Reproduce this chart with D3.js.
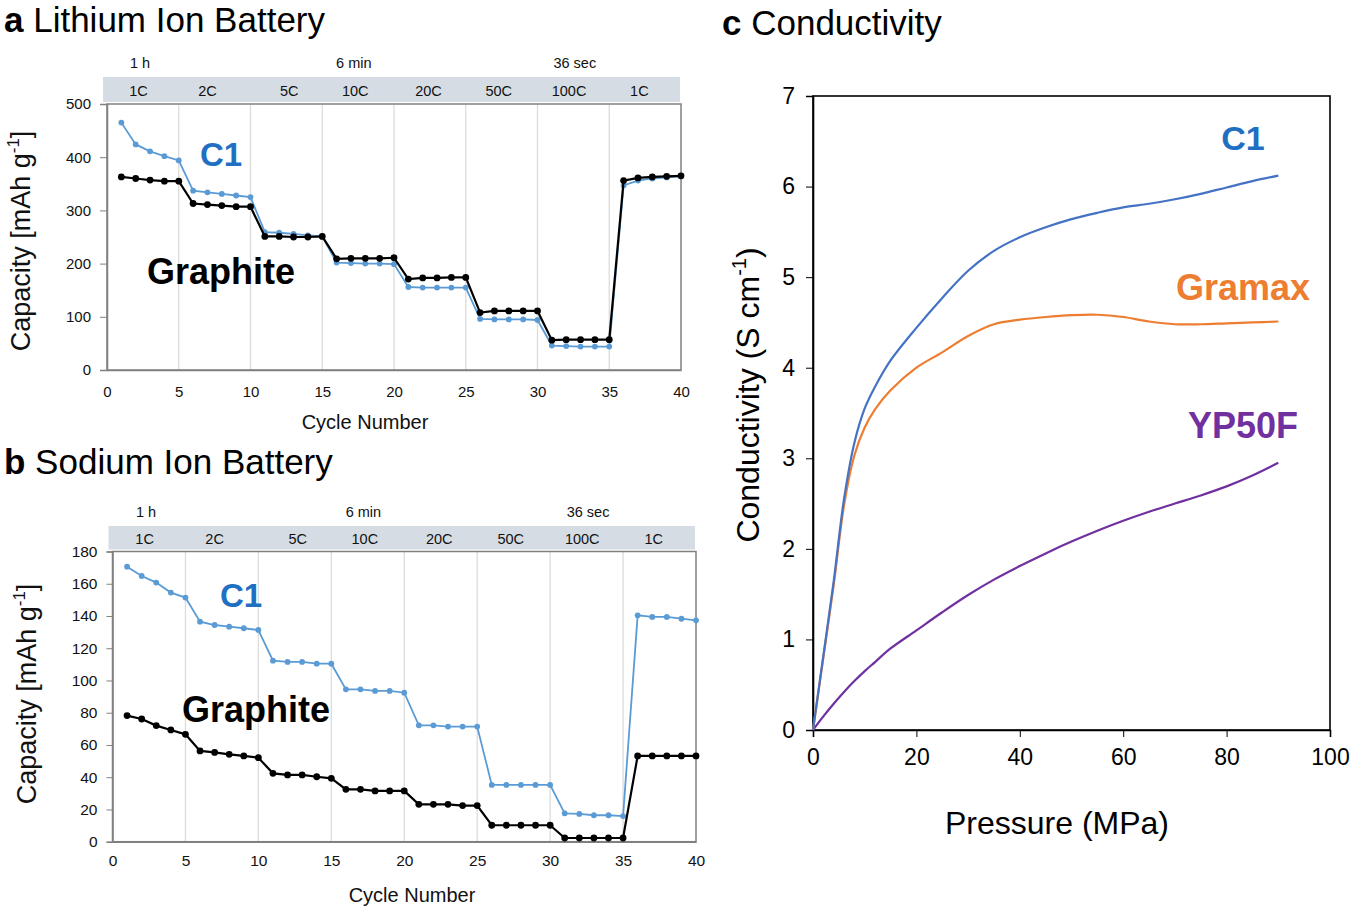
<!DOCTYPE html>
<html><head><meta charset="utf-8">
<script src="https://cdn.jsdelivr.net/npm/d3@7"></script>
<style>
body{margin:0;background:#fff;}
svg{display:block;}
text{font-family:"Liberation Sans",Arial,sans-serif;}
</style></head>
<body>
<svg id="chart" width="1352" height="908"></svg>
<script>
// ---------- DATA ----------
const cycles = d3.range(1, 41);
const rateLabels = ["1C","2C","5C","10C","20C","50C","100C","1C"];
const timeLabels = ["1 h","6 min","36 sec"];
const cycleTicks = [0,5,10,15,20,25,30,35,40];
const capTicksLi = [0,100,200,300,400,500];
const capTicksNa = [0,20,40,60,80,100,120,140,160,180];

const liC1 = [465,424,411,402,394, 337,334,331,328,325, 259,258,256,253,251,
              202,201,200,200,199, 156,155,155,155,155, 96,95,95,95,94,
              46,45,44,44,44, 347,356,360,362,364];
const liGraphite = [363,360,357,355,355, 313,311,309,307,307, 251,251,250,250,251,
              209,210,210,210,211, 171,173,173,174,174, 108,111,111,111,111,
              56,57,57,57,57, 356,361,363,364,365];

const naC1 = [170.6,164.8,160.7,154.5,151.4, 136.5,134.4,133.4,132.4,131.3,
              112.3,111.5,111.5,110.4,110.4, 94.5,94.5,93.5,93.5,92.4,
              72.2,72.2,71.4,71.4,71.4, 35.2,35.2,35.2,35.2,35.2,
              17.6,17.2,16.4,16.4,15.9, 140.4,139.4,139.4,138.3,137.3];
const naGraphite = [78.2,76.1,72,69.3,66.6, 56.3,55.4,54.2,53.2,52.1,
              42.4,41.4,41.4,40.3,39.3, 32.5,32.5,31.5,31.5,31.5,
              23.2,23.2,23.2,22.4,22.4, 10.2,10.2,10.2,10.2,10.2,
              2.3,2.3,2.3,2.3,2.3, 53.2,53.2,53.2,53.2,53.2];

const pressure   = [0,2,4,6,8,10,12,15,20,25,30,35,40,45,50,55,60,65,70,75,80,85,90];
const condC1     = [0,0.82,1.64,2.55,3.17,3.55,3.79,4.08,4.44,4.77,5.07,5.29,5.44,5.55,5.64,5.71,5.77,5.81,5.86,5.92,5.99,6.06,6.12];
const condGramax = [0,0.8,1.6,2.48,3.03,3.34,3.54,3.75,4.0,4.17,4.35,4.48,4.53,4.56,4.58,4.585,4.56,4.51,4.48,4.48,4.49,4.5,4.51];
const condYP50F  = [0,0.15,0.29,0.42,0.54,0.65,0.75,0.9,1.1,1.3,1.49,1.66,1.81,1.95,2.08,2.2,2.31,2.41,2.5,2.59,2.69,2.81,2.95];
const pressureTicks = [0,20,40,60,80,100];
const condTicks = [0,1,2,3,4,5,6,7];

// ---------- DRAW ----------
const svg = d3.select("#chart");
const blueLine = "#5b9bd5", blueText = "#1f6fc3";

function rateChart(cfg){
  const g = svg.append("g");
  const x = d3.scaleLinear().domain([0,40]).range([cfg.left, cfg.right]);
  const y = d3.scaleLinear().domain([0, cfg.ymax]).range([cfg.bottom, cfg.top]);
  // header band
  g.append("rect").attr("x", cfg.left-4).attr("y", cfg.bandTop)
    .attr("width", cfg.right - cfg.left + 3).attr("height", cfg.top - cfg.bandTop - 2)
    .attr("fill", "#d6dce4");
  const ratePos = [2.2,7,12.7,17.3,22.4,27.3,32.2,37.1];
  g.selectAll(".rl").data(rateLabels).join("text")
    .attr("x",(d,i)=>x(ratePos[i])).attr("y",(cfg.bandTop+cfg.top)/2+5)
    .attr("text-anchor","middle").attr("font-size",14.5).attr("fill","#111").text(d=>d);
  const timePos = [2.3,17.2,32.6];
  g.selectAll(".tl").data(timeLabels).join("text")
    .attr("x",(d,i)=>x(timePos[i])).attr("y",cfg.bandTop-9)
    .attr("text-anchor","middle").attr("font-size",14.5).attr("fill","#111").text(d=>d);
  // grid
  g.selectAll(".gr").data([5,10,15,20,25,30,35]).join("line")
    .attr("x1",d=>x(d)).attr("x2",d=>x(d)).attr("y1",cfg.top).attr("y2",cfg.bottom)
    .attr("stroke","#dcdcdc").attr("stroke-width",1.3);
  // frame
  g.append("rect").attr("x",cfg.left).attr("y",cfg.top).attr("width",cfg.right-cfg.left)
    .attr("height",cfg.bottom-cfg.top).attr("fill","none").attr("stroke","#808080").attr("stroke-width",1.5);
  // axes
  const ya = g.append("g").attr("transform",`translate(${cfg.left},0)`)
    .call(d3.axisLeft(y).tickValues(cfg.ticks).tickSize(cfg.tick).tickPadding(cfg.ypad));
  ya.select(".domain").attr("stroke","#808080").attr("stroke-width",1.5);
  ya.selectAll(".tick line").attr("stroke","#808080");
  ya.selectAll("text").attr("font-size",cfg.fs).attr("fill","#111");
  const xa = g.append("g").attr("transform",`translate(0,${cfg.bottom})`)
    .call(d3.axisBottom(x).tickValues(cycleTicks).tickSize(0).tickPadding(cfg.xpad));
  xa.select(".domain").attr("stroke","#808080").attr("stroke-width",1.5);
  xa.selectAll("text").attr("font-size",cfg.fs).attr("fill","#111");
  // titles
  g.append("text").attr("x",cfg.xTitleX).attr("y",cfg.xTitleY)
    .attr("text-anchor","middle").attr("font-size",20).attr("fill","#111").text("Cycle Number");
  const yt = g.append("text")
    .attr("transform",`translate(${cfg.yTitleX},${cfg.yTitleY}) rotate(-90)`)
    .attr("text-anchor","middle").attr("font-size",27).attr("fill","#111");
  yt.append("tspan").text("Capacity [mAh g");
  yt.append("tspan").attr("dy",-11).attr("font-size",17).text("-1");
  yt.append("tspan").attr("dy",11).text("]");
  g.append("text").attr("x",4).attr("y",cfg.titleY)
    .attr("font-size",35).attr("fill","#000")
    .call(t=>{t.append("tspan").attr("font-weight","bold").text(cfg.letter);
              t.append("tspan").text(" "+cfg.title);});
  // series
  const line = d3.line().x((d,i)=>x(cycles[i])).y(d=>y(d));
  [[cfg.c1, blueLine, 2.9],[cfg.gr, "#000", 3.4]].forEach(([vals,col,r], k)=>{
    const s = g.append("g");
    s.append("path").datum(vals).attr("d",line).attr("fill","none")
      .attr("stroke",col).attr("stroke-width",k?2.2:1.8);
    s.selectAll("circle").data(vals).join("circle")
      .attr("cx",(d,i)=>x(cycles[i])).attr("cy",d=>y(d)).attr("r",r).attr("fill",col);
  });
  g.append("text").attr("x",cfg.c1Lab[0]).attr("y",cfg.c1Lab[1])
    .attr("text-anchor","middle").attr("font-size",33).attr("font-weight","bold")
    .attr("fill",blueText).text("C1");
  g.append("text").attr("x",cfg.grLab[0]).attr("y",cfg.grLab[1])
    .attr("text-anchor","middle").attr("font-size",36).attr("font-weight","bold")
    .attr("fill","#000").text("Graphite");
}

rateChart({left:107,right:681,top:104,bottom:370,bandTop:77,ymax:500,ticks:capTicksLi,
  fs:15,tick:7,ypad:9,xpad:16,xTitleX:365,xTitleY:429,yTitleX:30,yTitleY:241,titleY:32,letter:"a",title:"Lithium Ion Battery",
  c1:liC1,gr:liGraphite,c1Lab:[221,166],grLab:[221,284]});
rateChart({left:112.5,right:696,top:551.5,bottom:841.7,bandTop:526,ymax:180,ticks:capTicksNa,
  fs:15.5,tick:6,ypad:9,xpad:13,xTitleX:412,xTitleY:902,yTitleX:36,yTitleY:694,titleY:474,letter:"b",title:"Sodium Ion Battery",
  c1:naC1,gr:naGraphite,c1Lab:[241,607],grLab:[256,722]});

// ---------- Panel c ----------
(function(){
  const L=813,R=1330,T=96,B=730;
  const g = svg.append("g");
  const x = d3.scaleLinear().domain([0,100]).range([L,R]);
  const y = d3.scaleLinear().domain([0,7]).range([B,T]);
  g.append("rect").attr("x",L).attr("y",T).attr("width",R-L).attr("height",B-T)
    .attr("fill","none").attr("stroke","#000").attr("stroke-width",1.6);
  const ya = g.append("g").attr("transform",`translate(${L},0)`)
    .call(d3.axisLeft(y).tickValues(condTicks).tickSize(7).tickPadding(11).tickFormat(d3.format("d")));
  ya.select(".domain").attr("stroke-width",1.6);
  ya.selectAll("text").attr("font-size",23).attr("fill","#000");
  const xa = g.append("g").attr("transform",`translate(0,${B})`)
    .call(d3.axisBottom(x).tickValues(pressureTicks).tickSize(7).tickPadding(12).tickFormat(d3.format("d")));
  xa.select(".domain").attr("stroke-width",1.6);
  xa.selectAll("text").attr("font-size",23).attr("fill","#000");
  g.append("text").attr("x",1057).attr("y",834)
    .attr("text-anchor","middle").attr("font-size",32).attr("fill","#000").text("Pressure (MPa)");
  const yt = g.append("text")
    .attr("transform",`translate(759,395) rotate(-90)`)
    .attr("text-anchor","middle").attr("font-size",32).attr("fill","#000");
  yt.append("tspan").text("Conductivity (S cm");
  yt.append("tspan").attr("dy",-13).attr("font-size",20).text("-1");
  yt.append("tspan").attr("dy",13).text(")");
  g.append("text").attr("x",722).attr("y",35).attr("font-size",35).attr("fill","#000")
    .call(t=>{t.append("tspan").attr("font-weight","bold").text("c");
              t.append("tspan").text(" Conductivity");});
  const line = d3.line().x((d,i)=>x(pressure[i])).y(d=>y(d)).curve(d3.curveCatmullRom.alpha(0.5));
  const series = [[condYP50F,"#7030a0","YP50F",438,36],[condGramax,"#ed7d31","Gramax",300,36],[condC1,"#4472c4","C1",150,34]];
  series.forEach(([vals,col,name,ly,fs])=>{
    g.append("path").datum(vals).attr("d",line).attr("fill","none").attr("stroke",col).attr("stroke-width",2.2);
    g.append("text").attr("x",1243).attr("y",ly).attr("text-anchor","middle")
      .attr("font-size",fs).attr("font-weight","bold").attr("fill",name==="C1"?blueText:col).text(name);
  });
})();
</script>
</body></html>
